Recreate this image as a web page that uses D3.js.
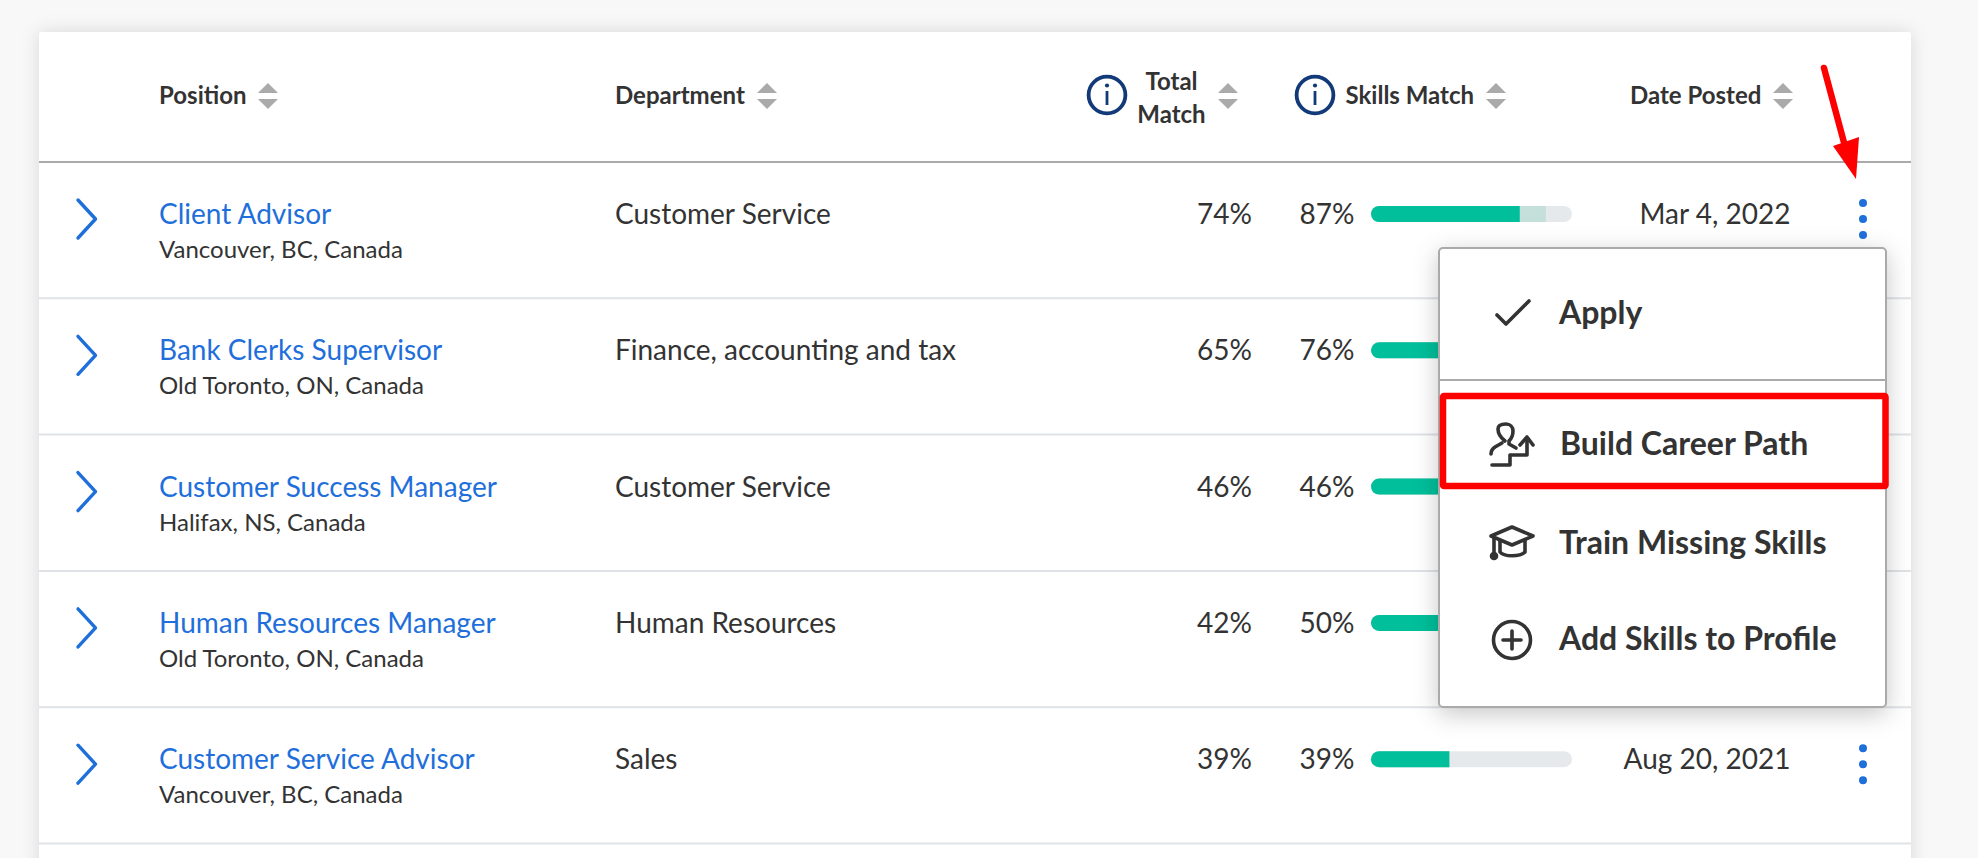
<!DOCTYPE html>
<html>
<head>
<meta charset="utf-8">
<script src="https://cdn.jsdelivr.net/npm/d3@7/dist/d3.min.js"></script>
<style>
html,body{margin:0;padding:0;background:#f8f8f8;overflow:hidden}
svg{display:block;font-family:Lato,sans-serif}
</style>
</head>
<body>
<svg id="c" width="1978" height="858"></svg>
<script>
const positions = ["Client Advisor","Bank Clerks Supervisor","Customer Success Manager","Human Resources Manager","Customer Service Advisor"];
const locations = ["Vancouver, BC, Canada","Old Toronto, ON, Canada","Halifax, NS, Canada","Old Toronto, ON, Canada","Vancouver, BC, Canada"];
const departments = ["Customer Service","Finance, accounting and tax","Customer Service","Human Resources","Sales"];
const totalMatch = [74,65,46,42,39];
const skillsMatch = [87,76,46,50,39];
const dates = ["Mar 4, 2022","","","","Aug 20, 2021"];
const menuItems = ["Apply","Build Career Path","Train Missing Skills","Add Skills to Profile"];

const rows = positions.map((p,i)=>({i,p,loc:locations[i],dep:departments[i],t:totalMatch[i],s:skillsMatch[i],date:dates[i]}));
const svg = d3.select("#c");
const INK="#333333", BLUE="#1f6fdb", NAVY="#123a78", GREY="#aaaaaa";

const defs = svg.append("defs");
const f1 = defs.append("filter").attr("id","cardShadow").attr("x","-5%").attr("y","-5%").attr("width","110%").attr("height","110%");
f1.append("feDropShadow").attr("dx",0).attr("dy",0).attr("stdDeviation",9).attr("flood-color","#000").attr("flood-opacity",0.13);
const f2 = defs.append("filter").attr("id","menuShadow").attr("x","-15%").attr("y","-15%").attr("width","130%").attr("height","130%");
f2.append("feDropShadow").attr("dx",0).attr("dy",6).attr("stdDeviation",12).attr("flood-color","#000").attr("flood-opacity",0.22);

// card
svg.append("rect").attr("x",39).attr("y",32).attr("width",1872).attr("height",900).attr("rx",3)
  .attr("fill","#fff").attr("filter","url(#cardShadow)");

// scales
const barX = d3.scaleLinear().domain([0,100]).range([1371,1572]);
const rowY = d3.scaleLinear().domain([0,5]).range([162,843.5]);

// header rule and row rules
svg.append("line").attr("x1",39).attr("x2",1911).attr("y1",162).attr("y2",162).attr("stroke",GREY).attr("stroke-width",2);
svg.selectAll("line.r").data(d3.range(1,6)).join("line").attr("class","r")
  .attr("x1",39).attr("x2",1911).attr("y1",d=>rowY(d)).attr("y2",d=>rowY(d)).attr("stroke","#dfe2e6").attr("stroke-width",2);

// header
function sortIcon(cx){
  const g = svg.append("g").attr("fill",GREY);
  g.append("path").attr("d",`M${cx-10},93 L${cx},83 L${cx+10},93 Z`);
  g.append("path").attr("d",`M${cx-10},99 L${cx},109 L${cx+10},99 Z`);
}
function infoIcon(cx){
  const g = svg.append("g");
  g.append("circle").attr("cx",cx).attr("cy",95).attr("r",18.4).attr("fill","none").attr("stroke",NAVY).attr("stroke-width",3.8);
  g.append("circle").attr("cx",cx).attr("cy",85.5).attr("r",2.1).attr("fill",NAVY);
  g.append("line").attr("x1",cx).attr("x2",cx).attr("y1",91).attr("y2",105).attr("stroke",NAVY).attr("stroke-width",2.8);
}
const headers = [
  {x:159,y:103.7,a:"start",t:"Position"},
  {x:615,y:103.7,a:"start",t:"Department"},
  {x:1171.5,y:89.5,a:"middle",t:"Total"},
  {x:1171.5,y:122.5,a:"middle",t:"Match"},
  {x:1345.5,y:103.7,a:"start",t:"Skills Match"},
  {x:1630,y:103.7,a:"start",t:"Date Posted"}
];
svg.selectAll("text.h").data(headers).join("text").attr("class","h")
  .attr("x",d=>d.x).attr("y",d=>d.y).attr("text-anchor",d=>d.a)
  .attr("font-size",24).attr("font-weight",700).attr("fill",INK).text(d=>d.t);
[268,767,1228,1496,1783].forEach(sortIcon);
[1107,1315].forEach(infoIcon);

// rows
const R = svg.selectAll("g.row").data(rows).join("g").attr("class","row")
  .attr("transform",d=>`translate(0,${rowY(d.i)})`);
R.append("path").attr("d","M78,38 L95.5,57 L78,76").attr("fill","none").attr("stroke",BLUE)
  .attr("stroke-width",3.4).attr("stroke-linecap","round").attr("stroke-linejoin","round");
R.append("text").attr("x",159).attr("y",62).attr("font-size",28).attr("fill",BLUE).text(d=>d.p);
R.append("text").attr("x",159).attr("y",96).attr("font-size",24).attr("fill",INK).text(d=>d.loc);
R.append("text").attr("x",615).attr("y",62).attr("font-size",28).attr("fill",INK).text(d=>d.dep);
R.append("text").attr("x",1252).attr("y",62).attr("text-anchor","end").attr("font-size",28).attr("fill",INK).text(d=>d.t+"%");
R.append("text").attr("x",1354.5).attr("y",62).attr("text-anchor","end").attr("font-size",28).attr("fill",INK).text(d=>d.s+"%");
R.append("rect").attr("x",barX(0)).attr("y",44).attr("height",16).attr("rx",8)
  .attr("width",barX(100)-barX(0)).attr("fill","#e6e9ec");
R.append("path").attr("fill","#c5dfdb")
  .attr("d",d=>`M${barX(0)+8},44 H${barX(d.s)} V60 H${barX(0)+8} Z`);
R.append("path").attr("fill","#00bf9a")
  .attr("d",d=>`M${barX(d.t)},44 H${barX(0)+8} A8,8 0 0 0 ${barX(0)+8},60 H${barX(d.t)} Z`);
R.append("text").attr("x",1790.5).attr("y",62).attr("text-anchor","end").attr("font-size",28).attr("fill",INK).text(d=>d.date);
const dotRows = rows.filter(d=>d.date);
svg.selectAll("g.dots").data(dotRows).join("g").attr("class","dots")
  .attr("transform",d=>`translate(1863,${rowY(d.i)+57})`)
  .selectAll("circle").data([-16,0,16]).join("circle")
  .attr("cy",d=>d).attr("r",4).attr("fill",BLUE);

// menu
svg.append("rect").attr("x",1439).attr("y",248).attr("width",447).attr("height",459).attr("rx",4)
  .attr("fill","#fff").attr("stroke",GREY).attr("stroke-width",2).attr("filter","url(#menuShadow)");
svg.append("line").attr("x1",1439).attr("x2",1886).attr("y1",380).attr("y2",380).attr("stroke",GREY).attr("stroke-width",2);

const menuPos = [[1559,323.5],[1560,455],[1559,553.5],[1559,650]];
svg.selectAll("text.m").data(menuItems).join("text").attr("class","m")
  .attr("x",(d,i)=>menuPos[i][0]).attr("y",(d,i)=>menuPos[i][1])
  .attr("font-size",32).attr("font-weight",700).attr("fill",INK).text(d=>d);

const icon = svg.append("g").attr("fill","none").attr("stroke",INK).attr("stroke-width",3.6).attr("stroke-linecap","round").attr("stroke-linejoin","round");
// check
icon.append("path").attr("d","M1497,315 L1506,324 L1529,301");
// person + stairs + arrow
icon.append("path").attr("d","M1505,441 C1500,437 1498,432 1498,429 C1498,425 1502,424 1506,424 C1510,424 1513,427 1513,431 C1513,435 1511,439 1509,441 V444 L1516,448");
icon.append("path").attr("d","M1502,443 L1495,447 C1492,449 1491,451 1491,454");
icon.append("path").attr("d","M1492,465 H1510 V455 H1527 V441");
icon.append("path").attr("d","M1520,445 L1527,437 L1533,445");
// cap
icon.append("path").attr("d","M1491,536 L1512,527 L1533,536 L1512,545 Z");
icon.append("path").attr("d","M1500,541 V552 C1504,557 1520,557 1525,552 V540");
icon.append("path").attr("d","M1494,537 V554");
icon.append("circle").attr("cx",1494).attr("cy",556).attr("r",2.5).attr("fill",INK);
// plus
icon.append("circle").attr("cx",1512).attr("cy",640).attr("r",18.5);
icon.append("path").attr("d","M1512,631 V649 M1503,640 H1521");

// annotations
svg.append("rect").attr("x",1443).attr("y",396).attr("width",442.5).attr("height",90).attr("fill","none")
  .attr("stroke","#fe0000").attr("stroke-width",6.5).attr("rx",1);
svg.append("line").attr("x1",1824).attr("y1",68).attr("x2",1846).attr("y2",150)
  .attr("stroke","#fe0000").attr("stroke-width",6.5).attr("stroke-linecap","round");
svg.append("path").attr("d","M1833,146 L1859,137 L1856,179 Z").attr("fill","#fe0000");
</script>
</body>
</html>
